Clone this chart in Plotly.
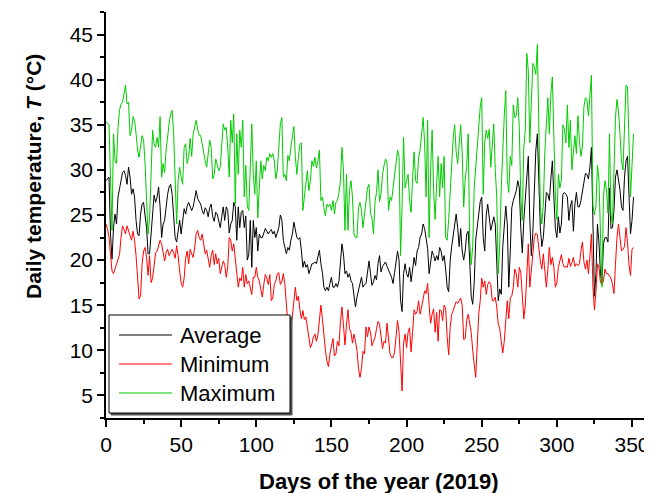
import plotly.graph_objects as go

days = list(range(352))

average = [
28.8,29.0,29.2,22.9,20.1,23.6,25.1,24.0,27.0,27.9,28.8,29.7,29.9,29.4,28.4,30.3,29.2,27.3,27.9,27.0,
24.4,22.9,22.7,25.1,26.2,26.4,24.9,23.6,20.7,20.7,22.9,25.5,27.2,26.4,27.0,28.1,25.9,22.5,24.0,24.4,
26.2,27.3,28.1,28.4,27.3,24.4,22.5,22.0,23.6,24.4,22.9,24.4,25.7,25.1,26.0,26.4,25.8,25.5,25.9,27.0,
27.7,26.8,26.4,26.2,25.5,25.1,25.8,25.5,24.8,25.8,26.2,24.8,24.3,25.3,25.1,24.2,23.6,24.8,25.9,24.4,
25.9,25.5,23.0,24.0,24.4,26.4,25.9,22.2,25.9,23.6,25.3,25.5,23.6,24.9,20.0,20.6,24.4,19.2,24.4,22.5,
23.6,21.0,22.9,22.5,22.5,23.0,23.5,23.2,22.9,23.2,23.4,22.9,23.2,22.5,23.0,23.6,25.0,24.5,22.2,21.5,
20.7,21.4,21.1,22.2,22.9,24.2,23.4,22.5,22.3,22.5,21.1,19.2,19.9,19.2,19.5,18.5,19.0,19.6,19.6,19.8,
19.6,20.5,21.1,19.6,18.6,17.0,16.6,17.0,16.6,17.4,18.1,17.0,17.0,17.4,17.0,17.7,19.9,21.8,20.7,18.5,
18.8,18.1,18.5,17.7,17.4,16.2,14.8,15.9,16.6,17.2,18.1,17.0,17.3,17.4,19.0,19.9,18.5,17.2,17.6,18.3,
17.8,19.6,20.5,18.7,19.3,19.5,19.8,19.3,18.8,18.5,18.1,17.4,18.6,20.0,21.0,20.0,15.5,14.3,18.5,19.6,
18.5,18.1,19.2,17.6,18.8,20.3,19.4,21.0,21.4,22.5,22.9,24.0,23.5,22.5,21.3,18.5,19.9,21.0,20.5,19.9,
20.5,20.0,21.4,21.0,19.9,20.5,19.0,17.0,16.5,19.9,21.5,22.9,24.4,25.1,23.6,21.5,23.5,21.0,20.0,21.0,
22.9,23.2,20.0,16.0,15.1,17.5,22.2,23.6,25.1,26.5,27.0,22.5,21.0,25.0,26.2,24.4,23.3,24.0,24.8,24.0,
19.0,15.5,16.8,16.2,21.5,24.5,26.0,24.0,17.0,21.0,25.8,26.6,27.3,27.7,28.8,28.0,23.5,20.8,24.4,26.6,
29.8,31.5,24.4,20.5,23.0,28.0,32.2,34.0,29.0,23.6,21.5,22.5,25.0,27.5,27.3,26.6,29.0,31.0,27.0,23.5,
22.5,24.8,23.0,24.0,27.3,27.5,27.3,27.0,24.4,26.0,26.6,23.2,26.2,27.5,25.9,25.9,26.6,27.5,28.8,29.6,
29.5,29.0,30.3,32.5,24.0,16.0,18.5,24.0,22.0,18.5,17.5,21.8,22.5,22.5,22.0,28.0,23.5,23.6,25.5,29.2,
30.0,28.8,27.8,25.9,25.5,29.2,31.0,31.5,28.0,22.9,24.4,27.0]

minimum = [
24.0,23.5,22.5,20.5,18.8,18.5,19.0,19.5,20.0,20.6,22.5,23.8,23.4,22.9,23.8,23.3,22.9,22.2,23.2,22.2,
20.5,18.5,15.7,16.0,19.5,21.0,21.4,20.3,18.3,20.5,17.5,18.0,19.5,20.8,21.0,21.5,22.2,21.8,20.6,19.9,
20.8,21.2,20.5,20.9,21.2,20.8,20.2,21.6,20.5,18.8,17.5,17.0,18.0,20.2,21.0,19.6,21.2,20.7,20.3,21.4,
22.9,23.3,22.5,22.2,22.9,21.8,20.7,21.1,20.0,19.2,20.5,21.1,19.5,20.7,19.6,20.2,18.5,19.2,19.9,19.5,
18.1,19.2,22.5,22.2,21.0,21.8,19.9,18.5,17.0,18.0,17.7,19.2,17.0,18.4,17.4,17.7,17.0,16.2,18.1,18.1,
19.2,18.1,17.7,16.5,15.9,17.3,18.4,18.0,17.3,18.4,15.5,15.8,17.3,17.7,18.5,18.6,17.3,17.6,18.5,17.3,
14.8,13.0,12.3,12.5,13.8,15.6,17.0,15.5,16.0,14.5,13.5,14.4,13.4,13.7,12.5,11.5,10.3,10.7,11.5,11.8,
11.0,11.7,13.3,15.0,13.5,11.3,10.0,8.8,8.2,9.6,10.3,11.3,9.4,9.6,11.0,10.5,13.2,14.8,12.8,10.6,
12.8,14.5,12.4,12.0,10.8,11.8,11.0,10.0,8.0,7.0,8.0,9.9,9.6,12.6,11.5,12.6,12.0,10.5,11.0,11.4,
12.4,13.2,12.9,11.5,10.2,11.0,10.8,13.0,11.5,9.6,9.2,9.2,9.8,12.0,13.3,12.0,8.0,5.5,10.8,11.8,
10.3,12.0,12.5,9.8,12.0,14.5,14.0,14.3,15.5,14.0,14.8,16.0,16.6,16.3,17.4,15.0,13.0,14.0,14.6,12.0,
14.2,11.0,14.5,14.4,13.3,15.0,14.6,11.5,9.5,12.5,14.0,14.4,15.0,15.4,15.2,15.5,15.8,15.0,11.2,11.3,
13.3,14.0,13.2,12.0,10.0,8.0,7.0,10.5,14.0,15.5,18.0,17.0,17.7,16.2,17.3,17.6,17.3,15.5,15.5,15.9,
14.8,12.9,12.4,11.0,9.7,11.0,14.0,15.5,13.5,15.8,16.0,17.0,19.0,18.5,17.0,19.2,18.6,15.5,13.5,15.0,
19.0,21.8,17.0,18.5,20.7,22.5,23.0,22.8,21.0,19.9,19.0,20.7,18.8,17.0,19.0,21.4,19.5,20.3,19.2,17.0,
17.5,19.2,19.9,20.6,19.6,19.2,19.3,19.2,20.2,19.3,19.7,20.3,19.3,19.6,19.4,19.6,21.0,22.0,19.8,19.0,
20.0,18.5,20.5,22.9,17.0,14.5,16.5,19.6,19.2,17.5,17.3,17.7,19.0,18.5,18.5,18.3,18.0,17.3,16.3,19.5,
22.5,24.0,22.0,21.0,21.2,21.5,23.6,22.0,19.5,18.3,21.2,21.4]

maximum = [
35.3,35.2,35.0,28.1,23.3,34.0,31.0,30.7,34.7,36.6,37.3,37.5,38.4,39.4,37.3,37.5,33.8,34.4,35.9,35.5,
34.0,32.2,31.4,32.9,33.8,33.3,30.7,26.6,22.9,24.7,30.7,34.4,32.9,32.5,33.6,32.5,35.9,29.2,30.7,29.7,
32.2,34.0,35.1,36.2,36.6,34.0,28.8,24.0,28.8,30.3,29.2,28.4,32.5,32.9,30.7,31.4,33.5,31.5,34.0,34.8,
35.5,34.5,33.8,33.8,32.8,31.8,31.0,30.3,32.2,33.3,32.5,29.0,29.5,31.2,30.6,29.9,30.3,32.5,35.1,34.4,
34.7,32.5,29.2,35.5,33.0,36.2,26.2,34.0,29.5,34.4,32.5,35.5,27.0,30.5,26.0,25.5,31.0,35.1,29.5,27.3,
31.0,24.7,28.0,31.0,29.0,30.5,29.9,31.4,31.0,31.8,31.4,31.8,31.0,29.0,30.0,32.5,35.1,35.8,29.2,29.5,
28.8,31.6,31.0,32.5,33.8,34.8,31.4,29.5,31.4,32.8,33.0,25.5,27.0,28.4,29.9,27.7,28.8,31.0,30.4,31.4,
30.2,31.0,32.2,26.6,27.0,25.8,24.9,26.2,25.9,26.2,25.5,26.6,25.1,26.4,26.6,27.5,28.8,32.5,30.0,23.3,
29.5,23.3,27.7,28.8,27.0,22.9,22.5,22.5,25.8,26.4,25.5,23.6,25.1,27.0,28.0,28.4,25.2,24.6,22.9,26.5,
27.5,30.0,26.5,27.3,29.5,30.5,31.2,30.8,25.5,27.0,26.6,28.0,29.5,31.0,32.2,31.4,20.5,26.0,33.6,28.0,
28.8,29.5,26.6,25.3,29.0,32.0,28.8,28.5,31.4,32.2,34.0,35.8,33.0,27.0,35.5,22.5,30.0,34.4,27.7,24.5,
28.5,31.5,27.0,30.7,28.0,31.5,22.5,22.2,24.5,27.7,31.8,33.5,35.0,32.0,30.7,33.3,35.0,32.0,25.9,29.0,
30.3,34.0,22.0,19.5,21.5,28.0,30.5,32.5,34.8,37.0,38.0,27.3,33.0,34.4,33.5,34.5,30.3,33.3,35.1,30.0,
27.0,18.5,21.8,28.0,32.5,36.0,38.8,29.0,27.5,31.5,30.5,37.2,35.8,36.0,38.0,34.7,27.0,24.4,32.5,34.4,
42.9,41.0,33.0,37.0,41.8,41.4,40.6,43.9,36.0,25.9,24.0,26.2,32.0,35.5,38.0,34.0,38.5,40.3,33.0,27.3,
24.5,29.5,28.0,28.8,35.0,34.5,33.0,37.2,32.5,35.5,30.0,32.5,33.8,31.8,36.0,33.3,31.5,32.5,37.0,38.0,
37.8,36.0,39.0,40.5,26.0,25.0,26.0,30.5,29.0,23.0,17.0,27.0,28.8,27.8,25.2,34.0,25.0,24.0,30.0,35.8,
37.8,36.5,34.0,31.0,30.0,35.0,39.4,39.2,32.0,27.0,30.5,34.0]

series_names = ["Average", "Minimum", "Maximum"]
series_colors = ["#000000", "#ff0000", "#00cc00"]
series_values = [average, minimum, maximum]

x_ticks = [0, 50, 100, 150, 200, 250, 300, 350]
y_ticks = [5, 10, 15, 20, 25, 30, 35, 40, 45]

# the page places the figure 8 px in from the window's top-left corner
OFF = 8
WIN_W, WIN_H = 652, 493
W, H = WIN_W - OFF, WIN_H - OFF
PLOT_L, PLOT_R, PLOT_T, PLOT_B = 106, 652, 12, 418   # window pixels
L, R = PLOT_L - OFF, W - (PLOT_R - OFF)
T, B = PLOT_T - OFF, H - (PLOT_B - OFF)
PW, PH = PLOT_R - PLOT_L, PLOT_B - PLOT_T

def px(x):
    return (x - PLOT_L) / PW

def py(y):
    return (PLOT_B - y) / PH

FONT = "Arial, Liberation Sans, sans-serif"

fig = go.Figure()
for name, col, vals in zip(series_names, series_colors, series_values):
    fig.add_trace(go.Scatter(x=days, y=vals, mode="lines", name=name,
                             line=dict(color=col, width=1), showlegend=False))

shapes = []
shapes.append(dict(type="rect", xref="paper", yref="paper",
                   x0=px(111), x1=px(292), y0=py(415), y1=py(317),
                   line=dict(color="#555555", width=1), fillcolor="#555555", layer="above"))
shapes.append(dict(type="rect", xref="paper", yref="paper",
                   x0=px(109), x1=px(290), y0=py(413), y1=py(315),
                   line=dict(color="#000000", width=1), fillcolor="white", layer="above"))
annotations = []
for i, (name, col) in enumerate(zip(series_names, series_colors)):
    yy = 335 + 29 * i
    shapes.append(dict(type="line", xref="paper", yref="paper",
                       x0=px(119), x1=px(172), y0=py(yy), y1=py(yy),
                       line=dict(color=col, width=1), layer="above"))
    annotations.append(dict(text=name, xref="paper", yref="paper", x=px(178), y=py(yy),
                            xanchor="left", yanchor="middle", showarrow=False,
                            font=dict(family=FONT, size=22, color="black")))

annotations.append(dict(text="<b>Days of the year (2019)</b>", xref="paper", yref="paper",
                        x=px(379), y=py(481), xanchor="center", yanchor="middle",
                        showarrow=False, font=dict(family=FONT, size=22, color="black")))
annotations.append(dict(text="<b>Daily temperature, <i>T</i> (°C)</b>", xref="paper", yref="paper",
                        x=px(33), y=py(177), xanchor="center", yanchor="middle", textangle=-90,
                        showarrow=False, font=dict(family=FONT, size=21, color="black")))

fig.update_layout(
    width=W, height=H,
    margin=dict(l=L, r=R, t=T, b=B),
    paper_bgcolor="white", plot_bgcolor="white",
    showlegend=False,
    shapes=shapes, annotations=annotations,
    font=dict(family=FONT, size=21, color="black"),
    xaxis=dict(range=[0, 363.3], tickvals=x_ticks, ticks="outside", ticklen=7, tickwidth=1.5,
               tickcolor="black", showline=True, linecolor="black", linewidth=1.5,
               showgrid=False, zeroline=False,
               minor=dict(dtick=25, tick0=0, ticks="outside", ticklen=4, tickwidth=1.5, tickcolor="black"),
               tickfont=dict(family=FONT, size=21)),
    yaxis=dict(range=[2.5, 47.5], tickvals=y_ticks, ticks="outside", ticklen=7, tickwidth=1.5,
               tickcolor="black", showline=True, linecolor="black", linewidth=1.5,
               showgrid=False, zeroline=False,
               minor=dict(dtick=2.5, tick0=0, ticks="outside", ticklen=4, tickwidth=1.5, tickcolor="black"),
               tickfont=dict(family=FONT, size=21)),
)

fig.write_html("out.html")
